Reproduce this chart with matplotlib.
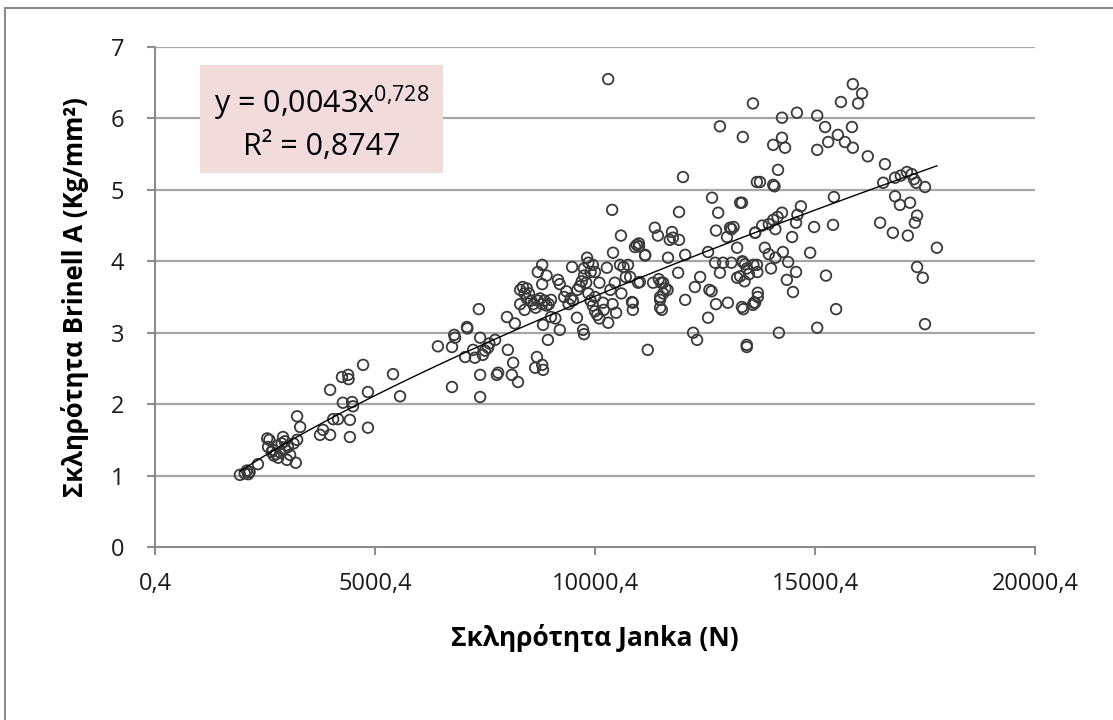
import matplotlib
matplotlib.use("Agg")
import matplotlib.pyplot as plt
import numpy as np
from matplotlib.patches import Rectangle

plt.rcParams['font.family'] = ['Open Sans', 'DejaVu Sans']
plt.rcParams['mathtext.fontset'] = 'custom'
plt.rcParams['mathtext.rm'] = 'Open Sans'

# Janka hardness (N) and Brinell A hardness (Kg/mm2)
janka = [
    1930, 2040, 2090, 2150, 2120, 2340, 2550, 2600, 2570, 2650, 2700, 2680, 2750, 2800,
    2850, 2910, 2880, 2950, 3020, 3070, 3000, 3200, 3230, 3230, 3300, 3150, 2780, 2950,
    3750, 3820, 3980, 3980, 4050, 4160, 4250, 4390, 4430, 4430, 4270, 4480, 4500, 4400,
    4730, 4840, 4840, 5410, 5570,
    6430, 6750, 6750, 6800, 6820, 7090, 7050, 7230, 7270, 7390, 7450, 7570, 7730, 7390,
    7390, 7360, 7770, 7800, 8020, 8140, 8110, 8250, 7100, 7500, 7600,
    8000, 8180, 8300, 8360, 8400, 8450, 8500, 8550, 8600, 8650, 8700, 8750, 8800, 8850,
    8900, 8950, 9000, 8700, 8800, 8900, 8800, 8300, 8400, 8450, 8820, 8930, 9000, 9100,
    9200, 8680, 8640, 8800, 8820, 9160, 9200, 9300, 9350, 9480, 9400, 9450, 9590, 9730,
    9750, 9500, 9600, 9650, 9700, 9750, 9750, 9800, 9820, 9850, 9900, 9850, 9900, 9950,
    10000, 10000, 10050, 10100, 10180, 10270, 10300, 10350, 10400, 10410, 10450, 10480,
    10200, 10100, 10000, 9950, 10570, 10650, 10750, 10700, 10800, 10910, 11000, 10860,
    10860, 10600, 11020, 11140, 11200, 11480, 11520, 11450, 11500, 11650, 11550, 11600,
    11660, 11700, 11890, 10390, 10300, 10590,
    12000, 11910, 12660, 12800, 13340, 11360, 11430, 11750, 11770, 11910, 10950, 11000,
    11140, 12050, 12750, 13000, 13070, 13100, 13150, 13230, 13640, 12570, 12730, 12910,
    13100, 13350, 13410, 12840, 13230, 13300, 13400, 13500, 13450, 13680, 13690, 13700,
    13640, 12270, 12390, 12600, 12650, 12050, 12750, 13020, 13340, 13370, 13590, 12570,
    12230, 12320, 13450, 11480, 10840, 11320, 10980, 11480, 11550, 13680, 12840, 13360,
    13590,
    15860, 16070, 15980, 15590, 14250, 14590, 15050, 14050, 14250, 14320, 15050, 15230,
    15300, 15520, 15680, 15840, 15860, 16200, 16590, 14160, 14050, 14080, 13750, 16550,
    16820, 16950, 17090, 17250, 17300, 17500, 17200, 13300, 15430, 16820, 16930, 17160,
    17320, 17270, 16480, 16770, 17110, 17770, 17320, 15410, 14980, 14890, 14480, 14680,
    14570, 14600, 14270, 14390, 13860, 13640, 13800, 13950, 14050, 14150, 14250, 14100,
    13360, 13600, 14000, 17450, 17500, 15250, 15480, 15050, 14180, 13450, 14500, 14570,
    14360, 13610, 13700, 13950, 14100,
]
brinell = [
    1.01, 1.03, 1.07, 1.05, 1.02, 1.16, 1.52, 1.50, 1.40, 1.33, 1.28, 1.36, 1.30, 1.25,
    1.32, 1.54, 1.45, 1.38, 1.40, 1.29, 1.22, 1.18, 1.50, 1.83, 1.68, 1.45, 1.42, 1.48,
    1.57, 1.64, 1.57, 2.20, 1.79, 1.79, 2.38, 2.41, 1.78, 1.54, 2.02, 2.03, 1.97, 2.35,
    2.55, 2.17, 1.67, 2.42, 2.11,
    2.81, 2.80, 2.24, 2.97, 2.93, 3.08, 2.66, 2.76, 2.65, 2.93, 2.69, 2.79, 2.90, 2.41,
    2.10, 3.33, 2.41, 2.44, 2.76, 2.58, 2.41, 2.31, 3.06, 2.75, 2.85,
    3.22, 3.13, 3.60, 3.64, 3.55, 3.62, 3.55, 3.45, 3.40, 3.35, 3.45, 3.48, 3.40, 3.45,
    3.38, 3.40, 3.46, 3.85, 3.95, 3.80, 3.68, 3.40, 3.32, 3.48, 3.11, 2.90, 3.22, 3.20,
    3.04, 2.66, 2.51, 2.55, 2.48, 3.74, 3.68, 3.50, 3.58, 3.92, 3.40, 3.48, 3.21, 3.04,
    2.98, 3.45, 3.60, 3.65, 3.72, 3.80, 3.90, 3.70, 4.05, 3.98, 3.85, 3.55, 3.45, 3.38,
    3.50, 3.30, 3.25, 3.20, 3.42, 3.91, 3.14, 3.60, 3.40, 4.12, 3.70, 3.28,
    3.32, 3.70, 3.85, 3.95, 3.95, 3.92, 3.95, 3.78, 3.78, 4.20, 4.25, 3.42,
    3.32, 3.55, 3.71, 4.09, 2.76, 3.46, 3.32, 3.75, 3.70, 3.60, 3.55, 3.62,
    4.05, 4.30, 3.84, 4.72, 6.55, 4.36,
    5.18, 4.69, 4.89, 4.68, 4.82, 4.47, 4.36, 4.41, 4.33, 4.30, 4.23, 4.21,
    4.08, 4.09, 4.43, 4.34, 4.47, 4.45, 4.48, 4.19, 4.40, 4.13, 3.98, 3.98,
    3.98, 4.00, 3.96, 3.84, 3.77, 3.79, 3.72, 3.82, 3.90, 3.95, 3.85, 3.56,
    3.42, 3.64, 3.78, 3.60, 3.58, 3.46, 3.40, 3.42, 3.36, 3.33, 3.39, 3.21,
    3.00, 2.90, 2.83, 3.35, 3.43, 3.70, 3.70, 3.50, 3.70, 5.11, 5.89, 5.74,
    6.21,
    6.48, 6.35, 6.21, 6.23, 6.01, 6.08, 6.04, 5.63, 5.73, 5.59, 5.56, 5.88,
    5.67, 5.77, 5.67, 5.88, 5.59, 5.47, 5.36, 5.28, 5.07, 5.05, 5.11, 5.10,
    5.17, 5.20, 5.25, 5.15, 5.10, 5.04, 5.22, 4.82, 4.90, 4.91, 4.79, 4.82,
    4.64, 4.54, 4.54, 4.40, 4.36, 4.19, 3.92, 4.51, 4.48, 4.12, 4.34, 4.77,
    4.54, 4.65, 4.13, 3.99, 4.19, 4.40, 4.50, 4.52, 4.58, 4.62, 4.68, 4.45,
    3.99, 3.95, 3.90, 3.77, 3.12, 3.80, 3.33, 3.07, 3.00, 2.80, 3.57, 3.85,
    3.74, 3.42, 3.50, 4.10, 4.05,
]

# power trendline shown on the chart
coef_a = 0.0043
coef_b = 0.728
x_ticks = [0.4, 5000.4, 10000.4, 15000.4, 20000.4]
x_tick_labels = ["0,4", "5000,4", "10000,4", "15000,4", "20000,4"]
y_ticks = [0, 1, 2, 3, 4, 5, 6, 7]

fig = plt.figure(figsize=(11.13, 7.2), dpi=100)
# chart-area border, cut off at the right and bottom of the picture
fig.patches.append(Rectangle((5 / 1113, -0.1), 1.2, 1.1 - 8 / 720,
                             transform=fig.transFigure, fill=False,
                             edgecolor='#8c8c8c', linewidth=1.5))

ax = fig.add_axes([155 / 1113, 173 / 720, 880 / 1113, 500 / 720])

for yv in y_ticks[1:]:
    ax.axhline(yv, color='#a6a6a6', linewidth=1.6, zorder=1)

ax.scatter(janka, brinell, s=58, facecolors='none', edgecolors='#3a3a3a',
           linewidths=1.3, zorder=3)

xs = np.linspace(min(janka), max(janka), 200)
ax.plot(xs, coef_a * xs ** coef_b, color='black', linewidth=1.0, zorder=4)

ax.set_xlim(0.4, 20000.4)
ax.set_ylim(0, 7)
ax.set_xticks(x_ticks)
ax.set_xticklabels(x_tick_labels)
ax.set_yticks(y_ticks)
ax.tick_params(axis='both', labelsize=17, color='#8c8c8c', length=6, width=1.5,
               labelcolor='#1a1a1a')
ax.tick_params(axis='x', pad=12)
ax.tick_params(axis='y', pad=16)

for side in ['top', 'right']:
    ax.spines[side].set_visible(False)
for side in ['left', 'bottom']:
    ax.spines[side].set_color('#8c8c8c')
    ax.spines[side].set_linewidth(1.5)

ax.set_xlabel('Σκληρότητα Janka (N)', fontsize=19, fontweight='bold', labelpad=20)
ax.set_ylabel('Σκληρότητα Brinell A (Kg/mm²)', fontsize=18.5, fontweight='bold', labelpad=16)

# equation box
ax.add_patch(Rectangle((0.051, 0.748), 0.276, 0.216, transform=ax.transAxes,
                       facecolor='#f2dcdb', edgecolor='none', zorder=5))
ax.text(0.189, 0.887, r'y = 0,0043x$^{\mathrm{0{,}728}}$', transform=ax.transAxes,
        ha='center', va='center', fontsize=22, zorder=6)
ax.text(0.189, 0.800, 'R² = 0,8747', transform=ax.transAxes,
        ha='center', va='center', fontsize=22, zorder=6)

fig.savefig('out.png', dpi=100)
